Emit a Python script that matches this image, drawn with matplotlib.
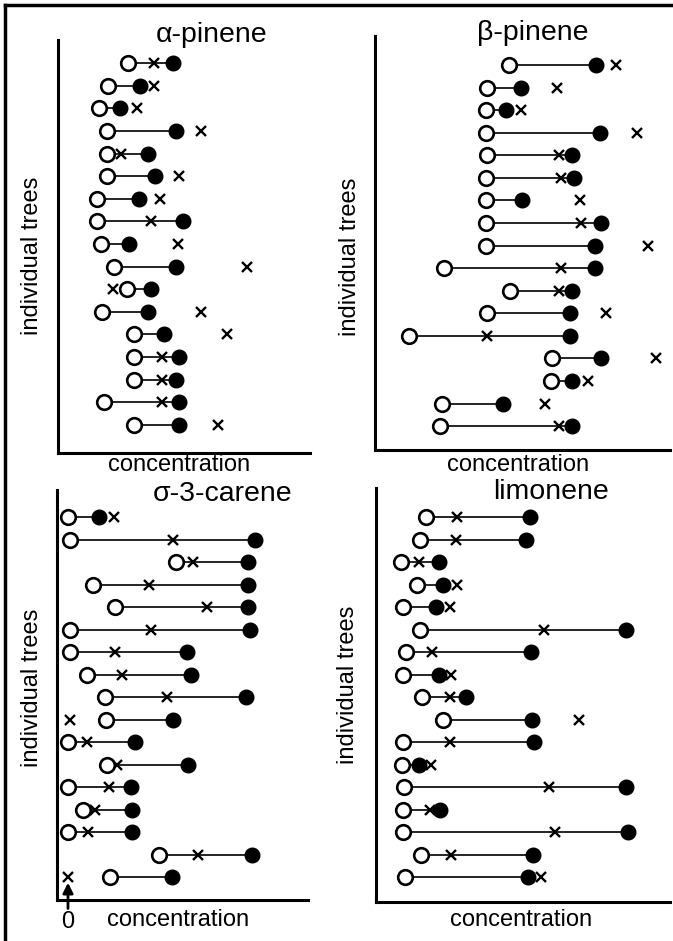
import matplotlib
matplotlib.use("Agg")
import matplotlib.pyplot as plt
from matplotlib.lines import Line2D

plt.rcParams['font.family'] = ['Liberation Sans', 'DejaVu Sans']

W, H = 673, 941

# concentrations (arbitrary units), one value per tree
alpha_open = [70, 50, 41, 49, 49, 49, 39, 39, 43, 56, 69, 44, 76, 76, 76, 46, 76]
alpha_cross = [96, 96, 79, 143, 63, 121, 102, 93, 120, 189, 55, 143, 169, 104, 104, 104, 160]
alpha_filled = [115, 82, 62, 118, 90, 97, 81, 125, 71, 118, 93, 90, 106, 121, 118, 121, 121]

beta_open = [134, 112, 111, 111, 112, 111, 111, 111, 111, 69, 135, 112, 34, 177, 176, 67, 65]
beta_cross = [241, 182, 146, 262, 184, 186, 205, 206, 273, 186, 184, 231, 112, 281, 213, 170, 184]
beta_filled = [221, 146, 131, 225, 197, 199, 147, 226, 220, 220, 197, 195, 195, 226, 197, 128, 197]

carene_open = [0, 2, 108, 25, 47, 2, 2, 19, 37, 38, 0, 39, 0, 15, 0, 91, 42]
carene_cross = [46, 105, 125, 81, 139, 83, 47, 54, 99, 2, 19, 49, 41, 27, 20, 130, 0]
carene_filled = [31, 187, 180, 180, 180, 182, 119, 123, 178, 105, 67, 120, 63, 64, 64, 184, 104]

limo_open = [50, 44, 25, 41, 27, 44, 30, 27, 46, 67, 27, 26, 28, 27, 27, 45, 29]
limo_cross = [81, 80, 43, 81, 74, 168, 56, 75, 74, 203, 74, 55, 173, 54, 179, 75, 165]
limo_filled = [154, 150, 63, 67, 60, 250, 155, 63, 90, 156, 158, 43, 250, 64, 252, 157, 152]

trees = list(range(1, 18))

fig = plt.figure(figsize=(W / 100, H / 100), dpi=100)


def px_axes(left, right, top, bottom):
    return fig.add_axes([left / W, 1 - bottom / H, (right - left) / W, (bottom - top) / H])


def draw_panel(ax, o, c, f, xlim, ylim):
    for y, a, b in zip(trees, o, f):
        ax.plot([a, b], [y, y], color='black', lw=1.2, zorder=1, clip_on=False)
    ax.plot(c, trees, ls='none', marker='x', ms=7.5, mew=1.7, color='black', zorder=2, clip_on=False)
    ax.plot(o, trees, ls='none', marker='o', ms=10.5, mew=1.9, mfc='white', mec='black', zorder=3, clip_on=False)
    ax.plot(f, trees, ls='none', marker='o', ms=10.5, mew=1.0, mfc='black', mec='black', zorder=4, clip_on=False)
    ax.set_xlim(*xlim)
    ax.set_ylim(*ylim)
    for s in ['top', 'right']:
        ax.spines[s].set_visible(False)
    for s in ['left', 'bottom']:
        ax.spines[s].set_linewidth(2.2)
    ax.set_xticks([])
    ax.set_yticks([])
    ax.patch.set_alpha(0)


axA = px_axes(58, 310, 40, 453)
draw_panel(axA, alpha_open, alpha_cross, alpha_filled, (0, 252), (18.24, -0.02))
axB = px_axes(375, 670, 36, 450)
draw_panel(axB, beta_open, beta_cross, beta_filled, (0, 295), (18.06, -0.29))
axC = px_axes(57, 308, 490, 900)
draw_panel(axC, carene_open, carene_cross, carene_filled, (-11, 240), (18.02, -0.2))
axD = px_axes(376, 670, 488, 902)
draw_panel(axD, limo_open, limo_cross, limo_filled, (0, 294), (18.11, -0.29))


def ftext(x, y, s, **kw):
    fig.text(x / W, 1 - y / H, s, ha='center', va='center', **kw)


ftext(212, 35, 'α-pinene', fontsize=20.5)
ftext(533, 33, 'β-pinene', fontsize=20.5)
ftext(223, 494, 'σ-3-carene', fontsize=20.5)
ftext(551, 492, 'limonene', fontsize=20.5)

ftext(179, 465, 'concentration', fontsize=17)
ftext(518, 465, 'concentration', fontsize=17)
ftext(178, 920, 'concentration', fontsize=17)
ftext(521, 920, 'concentration', fontsize=17)

ftext(32, 256, 'individual trees', fontsize=17, rotation=90)
ftext(350, 257, 'individual trees', fontsize=17, rotation=90)
ftext(32, 688, 'individual trees', fontsize=17, rotation=90)
ftext(348, 685, 'individual trees', fontsize=17, rotation=90)

# zero marker under the carene panel
ftext(68, 922, '0', fontsize=17)
axC.annotate('', xy=(0, 17.25), xytext=(0, 18.4), annotation_clip=False,
             arrowprops=dict(arrowstyle='-|>', color='black', lw=2.0, mutation_scale=15,
                             shrinkA=0, shrinkB=0))

# frame lines on the top and left edges
fig.add_artist(Line2D([5 / W, 1], [1 - 5 / H, 1 - 5 / H], color='black', lw=2.5))
fig.add_artist(Line2D([5 / W, 5 / W], [0, 1 - 5 / H], color='black', lw=2.5))

fig.savefig('out.png', dpi=100)
